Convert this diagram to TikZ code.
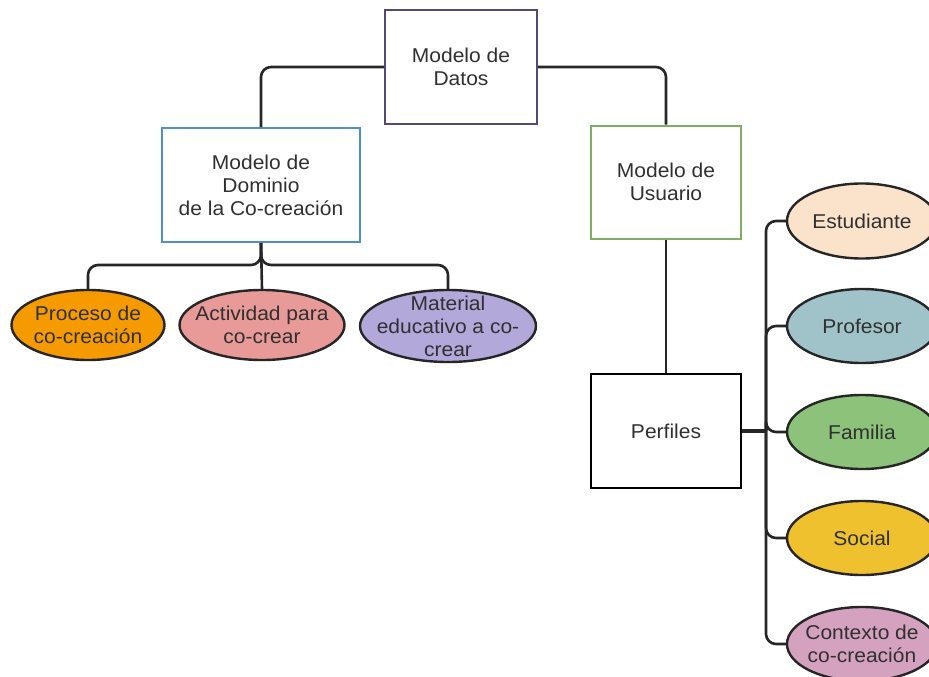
\documentclass[tikz,border=0pt]{standalone}
\usepackage{fontspec}
\setmainfont[FakeStretch=1.05]{Liberation Sans}
\usetikzlibrary{shapes.geometric}
\definecolor{txt}{HTML}{303030}
\definecolor{cDatos}{HTML}{514A78}
\definecolor{cDom}{HTML}{4F8FC9}
\definecolor{cUsu}{HTML}{7FAE62}
\definecolor{fProc}{HTML}{F59B00}
\definecolor{fAct}{HTML}{E89A98}
\definecolor{fMat}{HTML}{B2A8DA}
\definecolor{fEst}{HTML}{FBE3CB}
\definecolor{fProf}{HTML}{A0C2C9}
\definecolor{fFam}{HTML}{8DC27A}
\definecolor{fSoc}{HTML}{EFC12F}
\definecolor{fCtx}{HTML}{D4A2BF}
\tikzset{
  lbl/.style={align=center, text=txt, font=\fontsize{20}{23}\selectfont, inner sep=0pt},
  box/.style={draw, line width=2pt, fill=white, inner sep=0pt, lbl},
  oval/.style={ellipse, draw=black!85, line width=2.4pt, inner sep=0pt},
  conn/.style={line width=2.6pt, black!85, rounded corners=10pt},
}
\begin{document}
\begin{tikzpicture}[x=1pt,y=-1pt]
\useasboundingbox (0,0) rectangle (929,677);
\begin{scope}
\clip (0,0) rectangle (929,677);
% boxes
\node[box, draw=cDatos, minimum width=152pt, minimum height=114pt] (datos) at (461,67) {Modelo de\\Datos};
\node[box, draw=cDom, minimum width=198pt, minimum height=114pt] (dominio) at (261,185) {Modelo de\\Dominio\\de la Co-creación};
\node[box, draw=cUsu, minimum width=150pt, minimum height=113pt] (usuario) at (666,182) {Modelo de\\Usuario};
\node[box, draw=black, minimum width=150pt, minimum height=114pt] (perfiles) at (666,431) {Perfiles};
% left ellipses
\node[oval, fill=fProc, minimum width=153pt, minimum height=70pt,
  label={[lbl]center:{Proceso de\\co-creación}}] (proceso) at (88,325) {};
\node[oval, fill=fAct, minimum width=165pt, minimum height=70pt,
  label={[lbl]center:{Actividad para\\co-crear}}] (actividad) at (262,325) {};
\node[oval, fill=fMat, minimum width=176pt, minimum height=72pt,
  label={[lbl]center:{Material\\educativo a co-\\crear}}] (material) at (448,326) {};
% right ellipses
\node[oval, fill=fEst, minimum width=150pt, minimum height=75pt,
  label={[lbl]center:Estudiante}] (est) at (862,221) {};
\node[oval, fill=fProf, minimum width=150pt, minimum height=74pt,
  label={[lbl]center:Profesor}] (prof) at (862,326) {};
\node[oval, fill=fFam, minimum width=150pt, minimum height=74pt,
  label={[lbl]center:Familia}] (fam) at (862,432) {};
\node[oval, fill=fSoc, minimum width=150pt, minimum height=74pt,
  label={[lbl]center:Social}] (soc) at (862,538) {};
\node[oval, fill=fCtx, minimum width=150pt, minimum height=74pt,
  label={[lbl]center:{Contexto de\\co-creación}}] (ctx) at (862,644) {};
% connectors
\draw[conn] (datos.west) -| (dominio.north);
\draw[conn] (datos.east) -| (usuario.north);
\draw[conn] (dominio.south) -- ++(0,22) -| (proceso.north);
\draw[conn] (dominio.south) -- ++(0,22) -| (material.north);
\draw[conn] (dominio.south) -- (actividad.north);
\draw[conn] (usuario.south) -- (perfiles.north);
\coordinate (bus) at ([xshift=24pt]perfiles.east);
\draw[conn, line width=4pt] (perfiles.east) -- (bus);
\foreach \n in {est,prof,fam,soc,ctx} {
  \draw[conn] (bus) |- (\n.west);
}
\end{scope}
\end{tikzpicture}
\end{document}
